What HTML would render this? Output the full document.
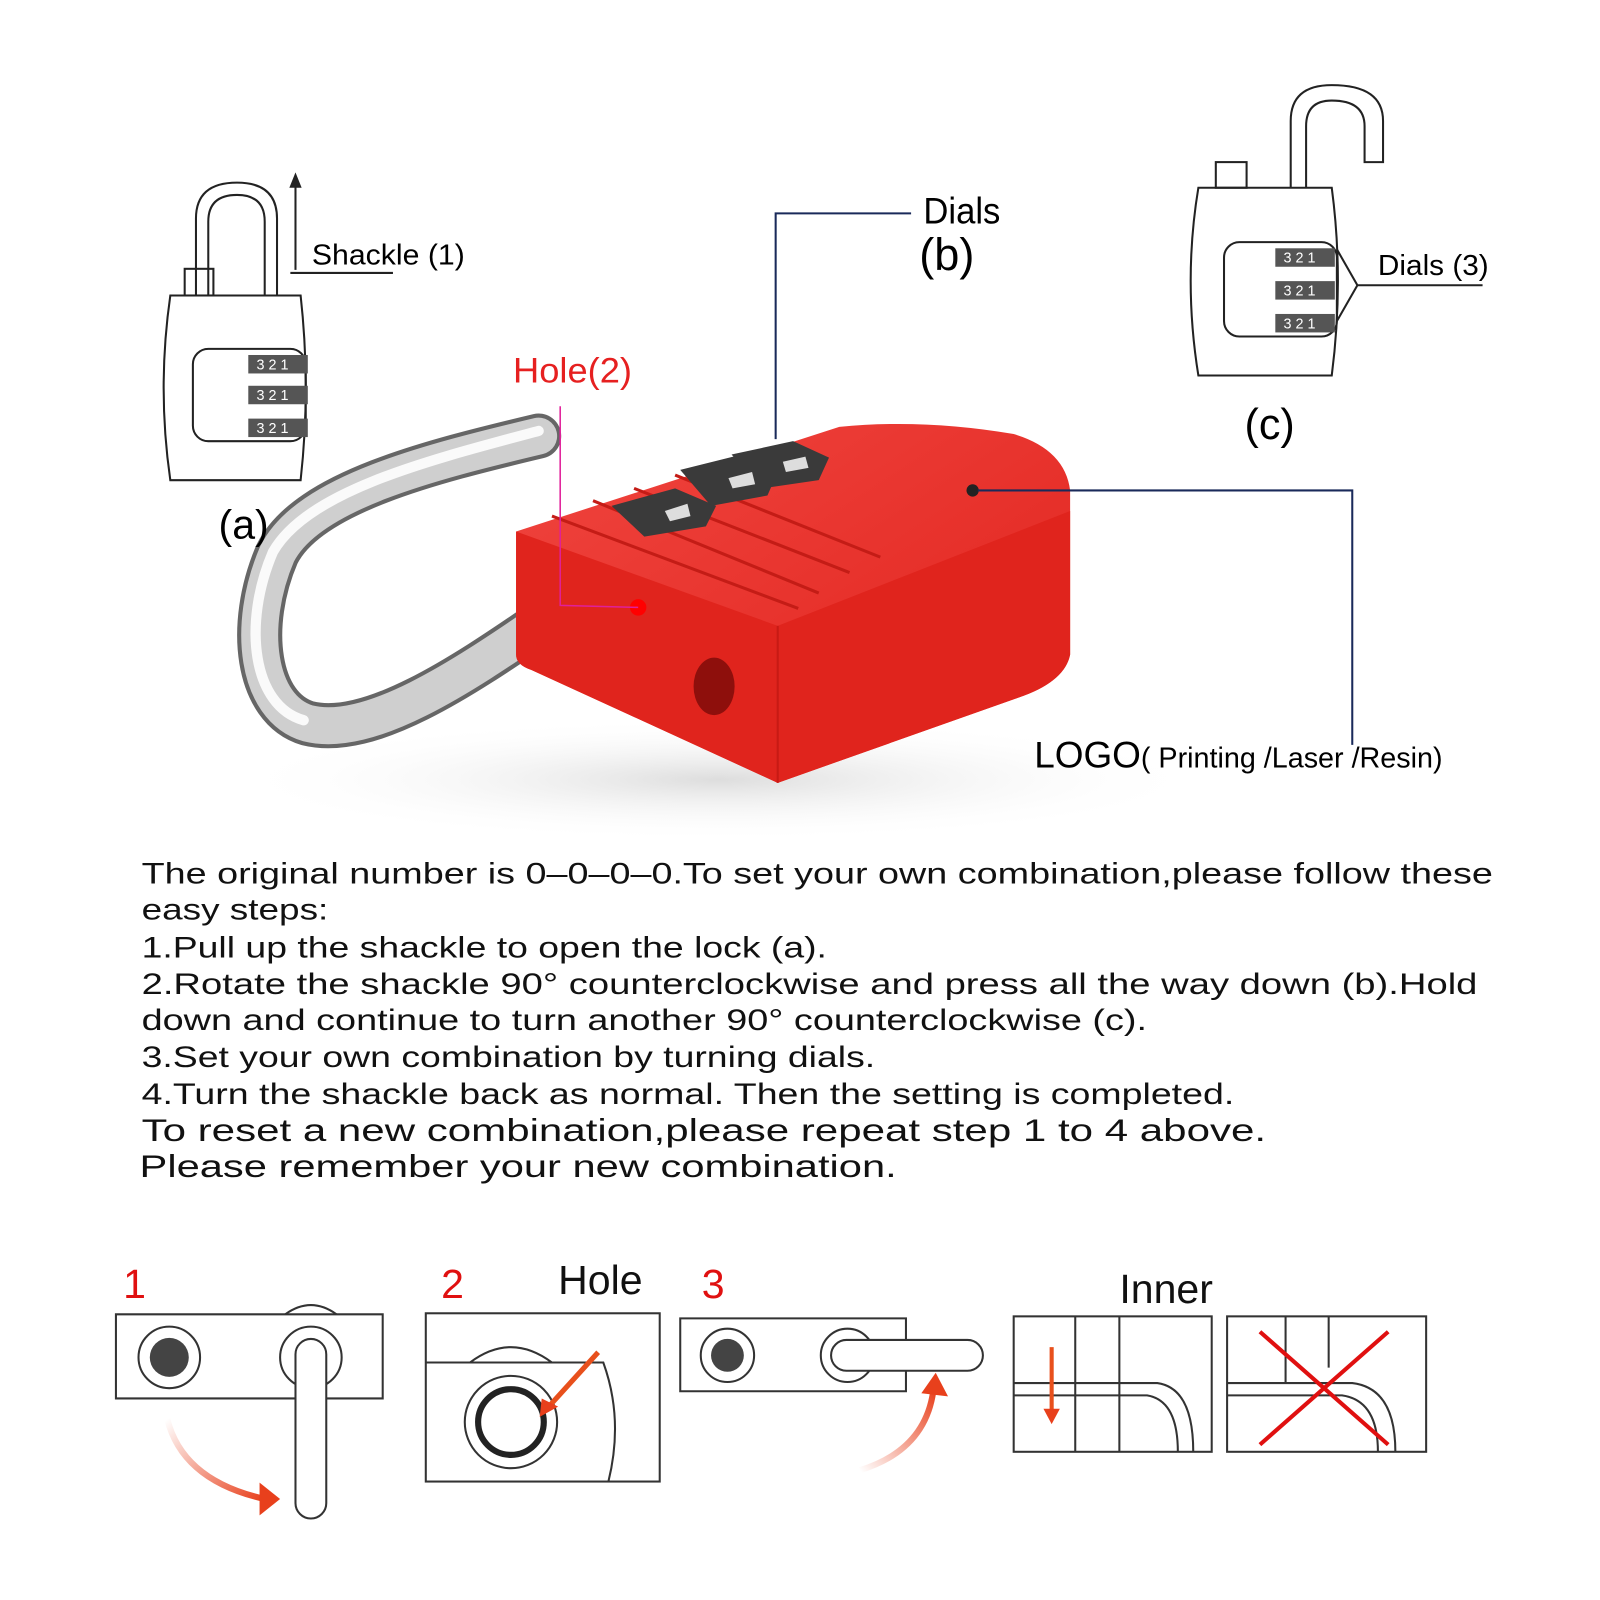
<!DOCTYPE html>
<html><head><meta charset="utf-8"><style>
html,body{margin:0;padding:0;background:#fff;}
svg{display:block;}
text{font-family:"Liberation Sans",sans-serif;}
</style></head><body>
<svg width="1600" height="1600" viewBox="0 0 1600 1600" xmlns="http://www.w3.org/2000/svg">
<defs>
<linearGradient id="red" x1="0" y1="0" x2="1" y2="1">
<stop offset="0" stop-color="#f0453f"/><stop offset="1" stop-color="#e0221c"/>
</linearGradient>
<radialGradient id="sh" cx="0.5" cy="0.5" r="0.5"><stop offset="0" stop-color="#ddd"/><stop offset="1" stop-color="#fff" stop-opacity="0"/></radialGradient>
<linearGradient id="arr" x1="0" y1="0" x2="1" y2="1"><stop offset="0" stop-color="#fff"/><stop offset="1" stop-color="#e8401c"/></linearGradient>
<linearGradient id="arr2" x1="0" y1="1" x2="1" y2="0"><stop offset="0" stop-color="#fff"/><stop offset="1" stop-color="#e8401c"/></linearGradient>
</defs>
<g transform="scale(1.026)">
<ellipse cx="700" cy="760" rx="480" ry="60" fill="url(#sh)"/>
<path d="M525 425 C420 450 300 480 270 540 C240 610 250 690 300 705 C360 720 450 660 530 605" fill="none" stroke="#666" stroke-width="44" stroke-linecap="round"/>
<path d="M525 425 C420 450 300 480 270 540 C240 610 250 690 300 705 C360 720 450 660 530 605" fill="none" stroke="#cfcfcf" stroke-width="36" stroke-linecap="round"/>
<path d="M525 420 C420 448 300 478 266 538 C236 608 246 688 296 702" fill="none" stroke="#fafafa" stroke-width="10" stroke-linecap="round"/>
<path d="M503 518 L818 416 Q900 408 988 423 Q1038 438 1043 478 L1043 638 Q1038 663 998 678 L758 763 L518 653 Q503 648 503 638 Z" fill="url(#red)"/>
<path d="M503 518 L758 610 L1043 498 L1043 638 Q1038 663 998 678 L758 763 L518 653 Q503 648 503 638 Z" fill="#e0241d"/>
<path d="M758 610 L758 763" stroke="#c81a14" stroke-width="2"/>
<g stroke="#c41c16" stroke-width="3" fill="none">
<path d="M538 503 L778 593"/><path d="M578 488 L798 578"/><path d="M618 476 L828 558"/><path d="M658 463 L858 543"/>
</g>
<g fill="#3a3a3a"><path d="M596 493 L658 476 L698 493 L688 513 L628 523Z"/><path d="M663 458 L723 443 L758 460 L748 483 L693 493Z"/><path d="M713 443 L773 430 L808 446 L798 468 L743 476Z"/></g>
<g fill="#ddd"><path d="M648 498 L670 491 L673 503 L653 508Z"/><path d="M710 466 L733 460 L736 472 L714 476Z"/><path d="M763 450 L785 445 L788 456 L766 460Z"/></g>
<ellipse cx="696" cy="669" rx="20" ry="28" fill="#8e0f0c"/>
<circle cx="948" cy="478" r="6" fill="#222"/>
<circle cx="622" cy="592" r="8" fill="#ff0000"/>
<g fill="none" stroke="#1a2a5a" stroke-width="2">
<path d="M888 208 L756 208 L756 428"/>
<path d="M953 478 L1318 478 L1318 726"/>
</g>
<path d="M546 396 L546 590 L622 592" fill="none" stroke="#e0209a" stroke-width="1.5"/>
<text x="900" y="218" font-size="36" textLength="75" lengthAdjust="spacingAndGlyphs">Dials</text>
<text x="896" y="263" font-size="44">(b)</text>
<text x="500" y="373" font-size="34" fill="#e62020" textLength="116" lengthAdjust="spacingAndGlyphs">Hole(2)</text>
<text x="1008" y="748" font-size="36" textLength="398" lengthAdjust="spacingAndGlyphs">LOGO<tspan font-size="28">( Printing /Laser /Resin)</tspan></text>
<g fill="none" stroke="#222" stroke-width="2">
<path d="M191 288 L191 213 Q191 178 231 178 Q270 178 270 213 L270 288"/>
<path d="M203 288 L203 216 Q203 190 231 190 Q258 190 258 216 L258 288"/>
<rect x="180" y="262" width="28" height="26"/>
<path d="M166 288 L293 288 Q303 378 293 468 L166 468 Q153 378 166 288Z"/>
<rect x="188" y="340" width="110" height="90" rx="15"/>
<path d="M288 173 L288 263 M283 266 L383 266"/>
</g>
<path d="M288 168 L282 183 L294 183Z" fill="#222"/>
<g fill="#555"><rect x="242" y="346" width="58" height="18"/><rect x="242" y="376" width="58" height="18"/><rect x="242" y="408" width="58" height="18"/></g>
<g fill="#fff" font-size="14"><text x="250" y="360">3 2 1</text><text x="250" y="390">3 2 1</text><text x="250" y="422">3 2 1</text></g>
<text x="304" y="258" font-size="28" textLength="149" lengthAdjust="spacingAndGlyphs">Shackle (1)</text>
<text x="213" y="525" font-size="40">(a)</text>
<g fill="none" stroke="#222" stroke-width="2">
<path d="M1258 183 L1258 118 Q1258 83 1298 83 Q1348 83 1348 118 L1348 158 L1330 158 L1330 123 Q1330 98 1298 98 Q1273 98 1273 123 L1273 183"/>
<rect x="1185" y="158" width="30" height="25"/>
<path d="M1168 183 L1298 183 Q1310 273 1298 366 L1168 366 Q1153 273 1168 183Z"/>
<rect x="1193" y="236" width="110" height="92" rx="15"/>
<path d="M1303 243 L1323 278 L1303 313 M1323 278 L1445 278"/>
</g>
<g fill="#555"><rect x="1243" y="242" width="58" height="18"/><rect x="1243" y="274" width="58" height="18"/><rect x="1243" y="306" width="58" height="18"/></g>
<g fill="#fff" font-size="14"><text x="1251" y="256">3 2 1</text><text x="1251" y="288">3 2 1</text><text x="1251" y="320">3 2 1</text></g>
<text x="1343" y="268" font-size="28" textLength="108" lengthAdjust="spacingAndGlyphs">Dials (3)</text>
<text x="1213" y="428" font-size="42">(c)</text>
<g font-size="29" fill="#111">
<text x="138" y="861" textLength="1317" lengthAdjust="spacingAndGlyphs">The original number is 0–0–0–0.To set your own combination,please follow these</text>
<text x="138" y="896" textLength="182" lengthAdjust="spacingAndGlyphs">easy steps:</text>
<text x="138" y="933" textLength="668" lengthAdjust="spacingAndGlyphs">1.Pull up the shackle to open the lock (a).</text>
<text x="138" y="969" textLength="1302" lengthAdjust="spacingAndGlyphs">2.Rotate the shackle 90°    counterclockwise and press all the way down (b).Hold</text>
<text x="138" y="1004" textLength="980" lengthAdjust="spacingAndGlyphs">down and continue to turn another 90°  counterclockwise (c).</text>
<text x="138" y="1040" textLength="715" lengthAdjust="spacingAndGlyphs">3.Set your own combination by turning dials.</text>
<text x="138" y="1076" textLength="1065" lengthAdjust="spacingAndGlyphs">4.Turn the shackle back as normal. Then the setting is completed.</text>
<text x="138" y="1112" font-size="31" textLength="1096" lengthAdjust="spacingAndGlyphs">To reset a new combination,please repeat step 1 to 4 above.</text>
<text x="136" y="1147" font-size="31" textLength="738" lengthAdjust="spacingAndGlyphs">Please remember your new combination.</text>
</g>
<g transform="translate(-2,-7)">
<g font-size="40"><text x="122" y="1272" fill="#e01010">1</text><text x="432" y="1272" fill="#e01010">2</text><text x="686" y="1272" fill="#e01010">3</text>
<text x="546" y="1268" fill="#111">Hole</text><text x="1093" y="1277" fill="#111">Inner</text></g>
<g fill="none" stroke="#333" stroke-width="2">
<path d="M115 1288 L375 1288 L375 1370 L115 1370Z"/>
<path d="M280 1288 Q305 1270 330 1288"/>
<circle cx="167" cy="1330" r="30"/><circle cx="305" cy="1330" r="30"/>
<rect x="290" y="1312" width="30" height="175" rx="15" fill="#fff"/>
<rect x="417" y="1287" width="228" height="164"/>
<path d="M417 1335 L590 1335 Q610 1390 595 1451"/>
<path d="M460 1335 Q500 1305 540 1335"/>
<circle cx="500" cy="1393" r="45"/>
<path d="M665 1292 L885 1292 L885 1363 L665 1363Z"/>
<circle cx="711" cy="1328" r="26"/><circle cx="828" cy="1328" r="26"/>
<rect x="812" y="1313" width="148" height="30" rx="15" fill="#fff"/>
<rect x="990" y="1290" width="193" height="132"/>
<path d="M1050 1290 L1050 1422 M1093 1290 L1093 1422 M990 1355 L1130 1355 Q1165 1360 1165 1422 M990 1367 L1120 1367 Q1150 1372 1150 1422"/>
<rect x="1198" y="1290" width="194" height="132"/>
<path d="M1255 1290 L1255 1355 M1297 1290 L1297 1340 M1198 1355 L1320 1355 Q1362 1360 1362 1422 M1198 1367 L1310 1367 Q1345 1372 1345 1422"/>
</g>
<circle cx="167" cy="1330" r="19" fill="#444"/><circle cx="711" cy="1328" r="16" fill="#444"/>
<circle cx="500" cy="1393" r="32" fill="none" stroke="#222" stroke-width="6"/>
<path d="M165 1390 Q180 1450 260 1468" fill="none" stroke="url(#arr)" stroke-width="6"/>
<path d="M255 1452 L275 1468 L255 1484Z" fill="#e8401c"/>
<path d="M840 1440 Q905 1420 912 1360" fill="none" stroke="url(#arr2)" stroke-width="6"/>
<path d="M900 1365 L914 1345 L926 1368Z" fill="#e8401c"/>
<path d="M585 1325 L535 1380" stroke="#e8501c" stroke-width="5"/>
<path d="M528 1388 L530 1370 L546 1378Z" fill="#e8401c"/>
<path d="M1027 1320 L1027 1385" stroke="#e8501c" stroke-width="4"/>
<path d="M1019 1380 L1027 1395 L1035 1380Z" fill="#e8401c"/>
<g stroke="#e01010" stroke-width="4"><path d="M1230 1305 L1355 1415 M1355 1305 L1230 1415"/></g>
</g>
</g>
</svg>
</body></html>
